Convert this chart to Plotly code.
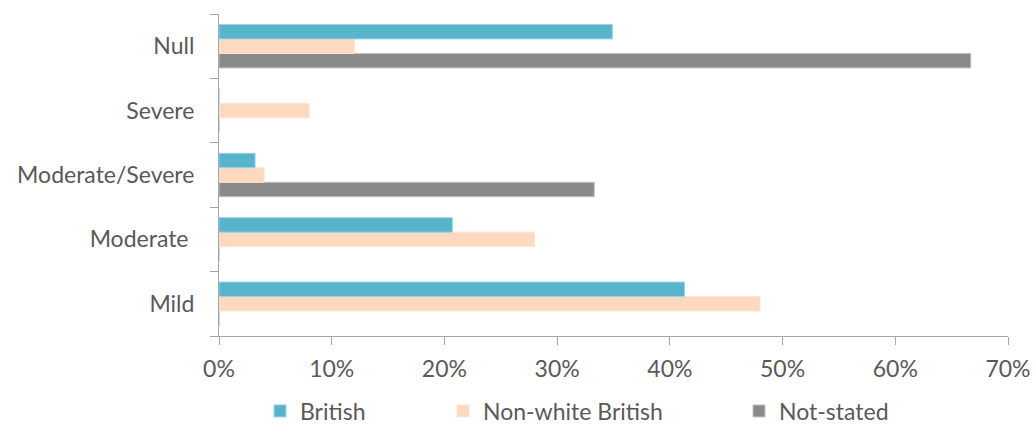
import plotly.graph_objects as go

categories = ["Mild", "Moderate", "Moderate/Severe", "Severe", "Null"]
tick_labels = ["Mild", "Moderate\u00a0", "Moderate/Severe", "Severe", "Null"]
british = [41.3, 20.7, 3.2, 0, 34.9]
non_white_british = [48.0, 28.0, 4.0, 8.0, 12.0]
not_stated = [0, 0, 33.3, 0, 66.7]

W, H = 1034, 426
FONT = "Lato"
FS = 23
TXT = "#595959"
AX = "#A6A6A6"

fig = go.Figure()
# Plotly draws the first trace at the bottom of each group, so add in reverse.
series = [
    ("Not-stated", not_stated, "#8A8A8A", "#C4C4C4", "legend3"),
    ("Non-white British", non_white_british, "#FCD9BF", "#FDE5D3", "legend2"),
    ("British", british, "#58B4CC", "#9ED3E2", "legend"),
]
for name, vals, col, lcol, lg in series:
    fig.add_trace(go.Bar(
        y=categories, x=[v / 100 for v in vals], name=name, orientation="h",
        marker=dict(color=col, line=dict(color=lcol, width=1)),
        legend=lg, showlegend=True,
    ))

def leg(xpx):
    return dict(
        x=xpx / W, xref="container", xanchor="left",
        y=1 - 411 / H, yref="container", yanchor="middle",
        orientation="h", bgcolor="rgba(0,0,0,0)",
        font=dict(family=FONT, size=FS, color=TXT),
        itemwidth=30,
    )

fig.update_layout(
    width=W, height=H,
    margin=dict(l=219, r=26, t=14, b=90),
    paper_bgcolor="white", plot_bgcolor="white",
    barmode="group", bargap=0.325, bargroupgap=0,
    font=dict(family=FONT, size=FS, color=TXT),
    showlegend=True,
    legend=leg(260),
    legend2=leg(443),
    legend3=leg(739),
    xaxis=dict(
        range=[0, 0.7], dtick=0.1, tickformat=".0%",
        showgrid=False, zeroline=False, automargin=False,
        showline=True, linecolor=AX, linewidth=1,
        ticks="outside", ticklen=8, tickcolor=AX, tickwidth=1,
        ticklabelstandoff=4,
        tickfont=dict(family=FONT, size=FS, color=TXT),
    ),
    yaxis=dict(
        categoryorder="array", categoryarray=categories,
        tickvals=categories, ticktext=tick_labels,
        showgrid=False, zeroline=False, automargin=False,
        showline=True, linecolor=AX, linewidth=1,
        ticks="outside", tickson="boundaries", ticklen=8, tickcolor=AX, tickwidth=1,
        ticklabelstandoff=19,
        tickfont=dict(family=FONT, size=FS, color=TXT),
    ),
)

fig.write_html("out.html")
